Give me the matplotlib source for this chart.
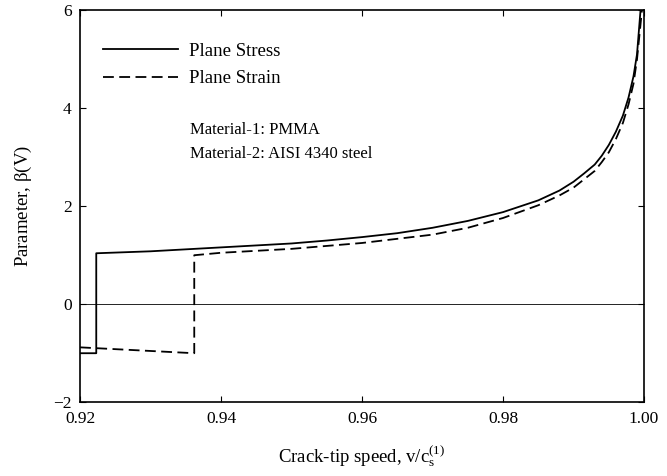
import matplotlib
matplotlib.use('Agg')
import matplotlib.pyplot as plt

plt.rcParams['font.family'] = ['Liberation Serif', 'DejaVu Serif']
plt.rcParams['mathtext.fontset'] = 'custom'
plt.rcParams['mathtext.rm'] = 'Liberation Serif'
plt.rcParams['mathtext.it'] = 'Liberation Serif'

# beta(V) versus crack-tip speed, plane stress
stress_v = [0.92, 0.9223, 0.9223, 0.93, 0.94, 0.95, 0.955, 0.96, 0.965, 0.97,
            0.975, 0.98, 0.985, 0.988, 0.99, 0.9915, 0.993, 0.994, 0.995,
            0.996, 0.997, 0.9978, 0.9985, 0.999, 0.9995]
stress_b = [-1.0, -1.0, 1.04, 1.08, 1.16, 1.24, 1.30, 1.37, 1.45, 1.56,
            1.70, 1.88, 2.12, 2.32, 2.50, 2.67, 2.85, 3.03, 3.25,
            3.52, 3.85, 4.22, 4.65, 5.1, 6.0]

# plane strain
strain_v = [0.92, 0.9362, 0.9362, 0.94, 0.95, 0.96, 0.97, 0.975, 0.98, 0.985,
            0.988, 0.99, 0.9915, 0.993, 0.994, 0.995, 0.996, 0.997, 0.9978,
            0.9985, 0.999, 0.9997]
strain_b = [-0.88, -1.0, 1.00, 1.05, 1.13, 1.25, 1.42, 1.56, 1.76, 2.02,
            2.22, 2.38, 2.55, 2.72, 2.9, 3.1, 3.37, 3.7, 4.08,
            4.5, 5.0, 6.0]

xticks = [0.92, 0.94, 0.96, 0.98, 1.00]
yticks = [-2, 0, 2, 4, 6]

fig = plt.figure(figsize=(6.67, 4.76), dpi=100)
ax = fig.add_axes([0.12, 0.155, 0.8456, 0.8235])

ax.axhline(0, color='black', lw=0.6)
ax.plot(stress_v, stress_b, color='black', lw=1.3, label='Plane Stress')
ax.plot(strain_v, strain_b, color='black', lw=1.3, dashes=(6, 3), label='Plane Strain')

ax.set_xlim(0.92, 1.00)
ax.set_ylim(-2, 6)
ax.set_xticks(xticks)
ax.set_xticklabels(['%.2f' % t for t in xticks])
ax.set_yticks(yticks)
ax.tick_params(direction='in', top=True, right=True, length=4, width=0.8,
               labelsize=12.5, pad=6)
for s in ax.spines.values():
    s.set_linewidth(1.2)

ax.set_xlabel(r'Crack-tip speed, v/c$_\mathrm{s}^{(1)}$', fontsize=13.5, labelpad=12)
ax.set_ylabel(r'Parameter, $\beta$(V)', fontsize=13.5, labelpad=14)

ax.legend(loc='upper left', bbox_to_anchor=(0.01, 0.96), frameon=False,
          fontsize=13.5, handlelength=4.0, handletextpad=0.6, labelspacing=0.55)
ax.text(0.195, 0.685, 'Material-1: PMMA', transform=ax.transAxes, fontsize=12)
ax.text(0.195, 0.622, 'Material-2: AISI 4340 steel', transform=ax.transAxes, fontsize=12)

fig.savefig('out.png', dpi=100)
